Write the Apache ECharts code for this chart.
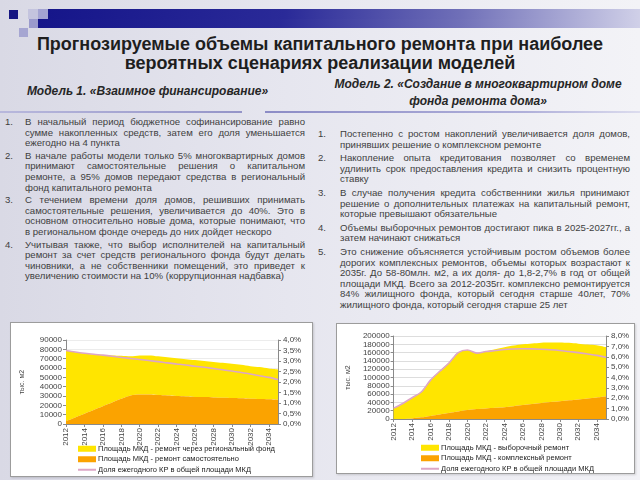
<!DOCTYPE html>
<html><head><meta charset="utf-8">
<script src="https://cdn.jsdelivr.net/npm/echarts@6/dist/echarts.min.js"></script>
<style>
html,body{margin:0;padding:0;width:640px;height:480px;overflow:hidden}
body{position:relative;background:linear-gradient(to right,#d9d9e5 0%,#e6e6ef 45%,#f3f3f7 100%);font-family:"Liberation Sans",Arial,sans-serif}
.abs{position:absolute}
.title{left:0;width:640px;text-align:center;font-weight:bold;font-size:18px;color:#1e1e1e;line-height:19px}
.sub{font-weight:bold;font-style:italic;font-size:12px;color:#262626;line-height:17px;text-align:center}
.list{font-size:9.6px;color:#3e3e3e;line-height:10.6px}
.item{position:relative;margin-bottom:2px}
.num{position:absolute;left:0;top:0}
.ln{white-space:nowrap;text-align:justify;text-align-last:justify;height:10.6px;overflow:visible}
.ln.last{text-align-last:left}
.panel{background:#fff;border:1px solid #9c9c9c;box-sizing:border-box;box-shadow:1px 1px 2px rgba(0,0,0,0.15)}
</style></head>
<body>
<!-- banner -->
<div class="abs" style="left:9px;top:10px;width:9px;height:9px;background:#161682"></div>
<div class="abs" style="left:28px;top:9px;width:10px;height:10px;background:#c4c4de"></div>
<div class="abs" style="left:38px;top:9px;width:10px;height:10px;background:#a4a4d2"></div>
<div class="abs" style="left:29px;top:19px;width:9px;height:9px;background:#9a9acc"></div>
<div class="abs" style="left:19px;top:28px;width:9px;height:9px;background:#a6a6d2"></div>
<div class="abs" style="left:48px;top:9px;width:592px;height:10px;background:linear-gradient(to right,#16168a 0%,#2a2a98 40%,#7070b8 70%,#d0d0e8 100%)"></div>
<div class="abs" style="left:38px;top:19px;width:602px;height:9px;background:linear-gradient(to right,#16168a 0%,#2a2a98 40%,#7070b8 70%,#d0d0e8 100%)"></div>

<div class="abs title" style="top:35px">Прогнозируемые объемы капитального ремонта при наиболее</div>
<div class="abs title" style="top:54px">вероятных сценариях реализации моделей</div>
<div class="abs sub" style="left:10px;width:275px;top:83px">Модель 1. «Взаимное финансирование»</div>
<div class="abs sub" style="left:318px;width:320px;top:76px">Модель 2. «Создание в многоквартирном доме<br>фонда ремонта дома»</div>

<div class="abs" style="left:0;top:111px;width:242px;height:2px;background:linear-gradient(to right,#b8b8dc,#9494c8)"></div>
<div class="abs" style="left:265px;top:111px;width:375px;height:2px;background:linear-gradient(to right,#8c8cc6,#b0b0da 70%,#dcdcee)"></div>

<div class="abs list" id="listL" style="left:5px;top:117px;width:300px"></div>
<div class="abs list" id="listR" style="left:318px;top:129px;width:312px"></div>

<div class="abs panel" id="c1" style="left:10px;top:322px;width:303px;height:155px"></div>
<div class="abs panel" id="c2" style="left:336px;top:323px;width:299px;height:151px"></div>

<script>
// ---- text lists ----
var listLeft = [
  ["В начальный период бюджетное софинансирование равно","сумме накопленных средств, затем его доля уменьшается","ежегодно на 4 пункта"],
  ["В начале работы модели только 5% многоквартирных домов","принимают самостоятельные решения о капитальном","ремонте, а 95% домов передают средства в региональный","фонд капитального ремонта"],
  ["С течением времени доля домов, решивших принимать","самостоятельные решения, увеличивается до 40%. Это в","основном относительно новые дома, которые понимают, что","в региональном фонде очередь до них дойдет нескоро"],
  ["Учитывая также, что выбор исполнителей на капитальный","ремонт за счет средств регионального фонда будут делать","чиновники, а не собственники помещений, это приведет к","увеличению стоимости на 10% (коррупционная надбавка)"]
];
var listRight = [
  ["Постепенно с ростом накоплений увеличивается доля домов,","принявших решение о комплексном ремонте"],
  ["Накопление опыта кредитования позволяет со временем","удлинить срок предоставления кредита и снизить процентную","ставку"],
  ["В случае получения кредита собственники жилья принимают","решение о дополнительных платежах на капитальный ремонт,","которые превышают обязательные"],
  ["Объемы выборочных ремонтов достигают пика в 2025-2027гг., а","затем начинают снижаться"],
  ["Это снижение объясняется устойчивым ростом объемов более","дорогих комплексных ремонтов, объемы которых возрастают к","2035г. До 58-80млн. м2, а их доля- до 1,8-2,7% в год от общей","площади МКД. Всего за 2012-2035гг. комплексно ремонтируется","84% жилищного фонда, который сегодня старше 40лет, 70%","жилищного фонда, который сегодня старше 25 лет"]
];
function buildList(el, items, indent, gap){
  items.forEach(function(lines, i){
    var it = document.createElement('div'); it.className='item'; it.style.marginBottom=gap+'px';
    var n = document.createElement('div'); n.className='num'; n.textContent=(i+1)+'.'; it.appendChild(n);
    lines.forEach(function(t, j){
      var d = document.createElement('div');
      d.className = 'ln' + (j===lines.length-1 ? ' last' : '');
      d.style.marginLeft = indent+'px';
      d.textContent = t; it.appendChild(d);
    });
    el.appendChild(it);
  });
}
buildList(document.getElementById('listL'), listLeft, 20, 2);
buildList(document.getElementById('listR'), listRight, 22, 3);

// ---- chart data ----
var years = ["2012","2013","2014","2015","2016","2017","2018","2019","2020","2021","2022","2023","2024","2025","2026","2027","2028","2029","2030","2031","2032","2033","2034","2035"];

// Model 1
var m1Regional = [75500,70000,64500,59500,55000,50500,46000,42000,42000,42000,41500,41000,40500,40000,39500,38700,38000,37500,36700,36000,35000,34200,33000,32500];
var m1Self = [3000,7000,11000,15000,19000,23000,27000,30500,31500,31500,31000,30500,30000,29500,29000,28800,28500,28000,27800,27500,27000,26800,26500,26000];
var m1Share = [3.50,3.43,3.37,3.32,3.28,3.23,3.17,3.12,3.07,3.02,2.97,2.91,2.86,2.81,2.75,2.70,2.64,2.58,2.52,2.45,2.38,2.30,2.22,2.12];

// Model 2
var m2Selective = [26000,37700,49500,62000,86500,105000,121500,142000,144500,135000,137500,141000,144500,146000,146500,146000,145500,143500,141500,138500,134500,130000,125500,118000];
var m2Complex = [0,300,1500,4000,7500,11000,14500,18000,21500,24000,25500,27000,28500,31000,33500,36000,38500,41000,43000,45000,47000,49500,52000,55000];
var m2Share = [1.05,1.50,2.05,2.60,3.75,4.60,5.40,6.40,6.65,6.35,6.50,6.60,6.70,6.75,6.77,6.76,6.72,6.67,6.60,6.50,6.40,6.27,6.13,5.95];

var m1Names = ["Площадь МКД - ремонт через региональный фонд","Площадь МКД - ремонт самостоятельно","Доля ежегодного КР в общей площади МКД"];
var m2Names = ["Площадь МКД - выборочный ремонт","Площадь МКД - комплексный ремонт","Доля ежегодного КР в общей площади МКД"];

var YELLOW = "#FFE500", ORANGE = "#FBA300", PINK = "#DDA6C6";
var FONT = "Liberation Sans";

function pct(v){ return v.toFixed(1).replace('.', ',') + '%'; }
function plain(v){ return String(v); }

function makeOption(cfg){
  var axisLine = {show:true,lineStyle:{color:'#8a8a8a',width:1}};
  var axisTick = {show:true,length:3,lineStyle:{color:'#8a8a8a'}};
  return {
    animation:false,
    textStyle:{fontFamily:FONT},
    grid:cfg.grid,
    legend:{
      orient:'vertical', left:cfg.legendLeft, top:cfg.legendTop, height:60, padding:0, itemGap:1,
      itemWidth:18, itemHeight:6,
      textStyle:{fontSize:7.5,color:'#222',fontFamily:FONT,lineHeight:9.5,padding:[0,0,0,-3]},
      data:[{name:cfg.names[0],icon:'rect'},{name:cfg.names[1],icon:'rect'},{name:cfg.names[2],itemStyle:{opacity:0}}]
    },
    xAxis:{
      type:'category', data:years, boundaryGap:false,
      axisLine:axisLine,
      axisTick:{show:true,length:3,interval:1,lineStyle:{color:'#8a8a8a'}},
      axisLabel:{fontSize:8,color:'#444',fontFamily:FONT,rotate:90,interval:1,margin:4}
    },
    yAxis:[
      {type:'value',min:0,max:cfg.leftMax,interval:cfg.leftStep,
       name:'тыс. м2',nameLocation:'middle',nameGap:cfg.nameGap,
       nameTextStyle:{fontSize:7,color:'#444',fontFamily:FONT},
       axisLine:axisLine,axisTick:axisTick,
       axisLabel:{fontSize:8,color:'#444',fontFamily:FONT,margin:4,formatter:plain},
       splitLine:{show:true,lineStyle:{color:cfg.gridColor,width:1}}},
      {type:'value',min:0,max:cfg.rightMax,interval:cfg.rightStep,position:'right',
       axisLine:axisLine,axisTick:axisTick,
       axisLabel:{fontSize:8,color:'#444',fontFamily:FONT,margin:5,formatter:pct},
       splitLine:{show:false}}
    ],
    series:[
      {name:cfg.names[1],type:'line',stack:'total',data:cfg.bottom,smooth:0.3,symbol:'none',
       itemStyle:{color:ORANGE},lineStyle:{width:0,color:ORANGE},areaStyle:{color:ORANGE,opacity:1},z:2},
      {name:cfg.names[0],type:'line',stack:'total',data:cfg.top,smooth:0.3,symbol:'none',
       itemStyle:{color:YELLOW},lineStyle:{width:0,color:YELLOW},areaStyle:{color:YELLOW,opacity:1},z:1},
      {name:cfg.names[2],type:'line',yAxisIndex:1,data:cfg.share,smooth:0.3,symbol:'none',
       itemStyle:{color:PINK},lineStyle:{width:1.6,color:PINK},z:3}
    ]
  };
}

var c1 = echarts.init(document.getElementById('c1'), null, {renderer:'canvas'});
c1.setOption(makeOption({
  grid:{left:47,top:17,width:220,height:84},
  legendLeft:66, legendTop:121, names:m1Names,
  leftMax:90000,leftStep:10000,rightMax:4,rightStep:0.5,nameGap:40,gridColor:'#ececec',
  bottom:m1Self, top:m1Regional, share:m1Share
}));

var c2 = echarts.init(document.getElementById('c2'), null, {renderer:'canvas'});
c2.setOption(makeOption({
  grid:{left:46,top:12,width:223,height:83},
  legendLeft:83, legendTop:119, names:m2Names,
  leftMax:200000,leftStep:20000,rightMax:8,rightStep:1,nameGap:35,gridColor:'#dddddd',
  bottom:m2Complex, top:m2Selective, share:m2Share
}));
</script>
</body></html>
